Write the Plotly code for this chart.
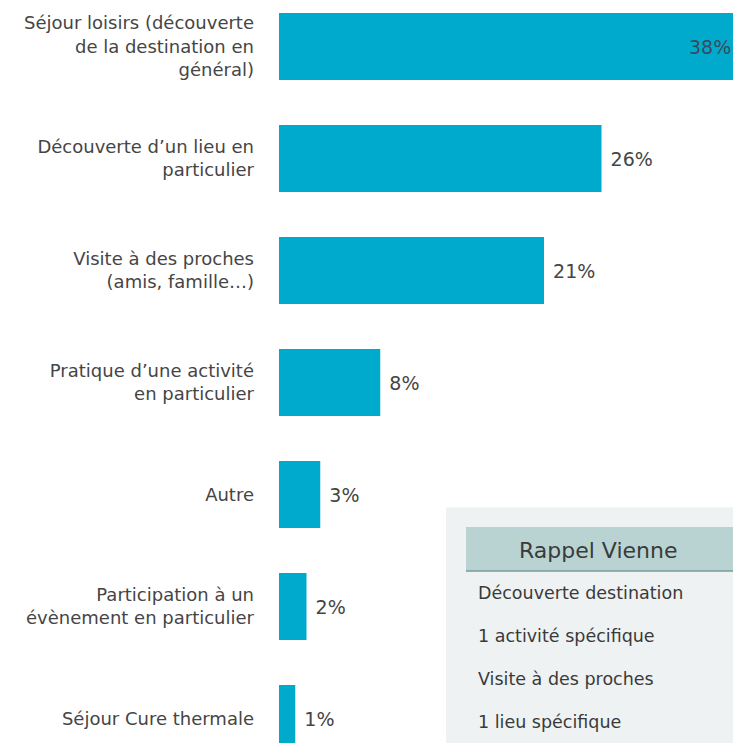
import plotly.graph_objects as go

categories = [
    "Séjour loisirs (découverte<br>de la destination en<br>général)",
    "Découverte d’un lieu en<br>particulier",
    "Visite à des proches<br>(amis, famille…)",
    "Pratique d’une activité<br>en particulier",
    "Autre",
    "Participation à un<br>évènement en particulier",
    "Séjour Cure thermale",
]
values = [38.3, 25.8, 21.2, 8.1, 3.3, 2.2, 1.3]
labels = ["38%", "26%", "21%", "8%", "3%", "2%", "1%"]

box_title = "Rappel Vienne"
box_items = ["Découverte destination", "1 activité spécifique",
             "Visite à des proches", "1 lieu spécifique"]

FONT = "DejaVu Sans"
TXT = "#454545"
BAR = "#00AACD"

W, H = 733, 743
L = 279               # left edge of bars
PPU = 12.5            # pixels per percent
Y0 = 46.5             # centre of first bar
PITCH = 112

text_list = [""] + labels[1:]

fig = go.Figure(go.Bar(
    x=values, y=categories, orientation="h",
    marker=dict(color=BAR, line=dict(width=0)),
    text=text_list, texttemplate="\u00a0%{text}", textposition="outside",
    textfont=dict(family=FONT, size=19, color=TXT),
    cliponaxis=True,
))

fig.update_layout(
    width=W, height=H,
    margin=dict(l=L, r=0, t=0, b=0),
    paper_bgcolor="white", plot_bgcolor="white",
    showlegend=False,
    font=dict(family=FONT, color=TXT),
    bargap=0.4,
)
fig.update_xaxes(range=[0, (W - L) / PPU], visible=False, fixedrange=True)
fig.update_yaxes(
    range=[(H - Y0) / PITCH, -Y0 / PITCH],
    showgrid=False, zeroline=False, showline=False,
    ticks="", ticklabelstandoff=24,
    tickfont=dict(family=FONT, size=18, color=TXT),
)

# label of the first (clipped) bar, drawn inside near the image edge
fig.add_annotation(xref="paper", yref="y", x=1, y=categories[0], xanchor="left",
                   xshift=-46, text=labels[0], showarrow=False,
                   font=dict(family=FONT, size=19, color="#3a4a5c"))

# Rappel box (coordinates given in pixels)
def px(x):
    return (x - L) / (W - L)
def py(y):
    return 1 - y / H

fig.add_shape(type="rect", xref="paper", yref="paper",
              x0=px(446), x1=px(760), y0=py(760), y1=py(507.5),
              fillcolor="#EEF2F2", line=dict(width=0), layer="above")
fig.add_shape(type="rect", xref="paper", yref="paper",
              x0=px(466), x1=px(760), y0=py(571), y1=py(527),
              fillcolor="#B9D3D3", line=dict(width=0), layer="above")
fig.add_shape(type="line", xref="paper", yref="paper",
              x0=px(466), x1=px(760), y0=py(571), y1=py(571),
              line=dict(color="#7A9A9A", width=1.5), layer="above")
fig.add_annotation(xref="paper", yref="paper", x=px(598), y=py(550),
                   xanchor="center", yanchor="middle",
                   text=box_title, showarrow=False,
                   font=dict(family=FONT, size=22, color="#3a3a3a"))
for i, item in enumerate(box_items):
    fig.add_annotation(xref="paper", yref="paper", x=px(476), y=py(593 + 43 * i),
                       xanchor="left", yanchor="middle", text=item, showarrow=False,
                       font=dict(family=FONT, size=17.5, color="#3a3a3a"))

fig.write_html(
    "out.html",
    config={"displayModeBar": False},
    post_script="document.body.style.margin='0';document.body.style.overflow='hidden';",
)
